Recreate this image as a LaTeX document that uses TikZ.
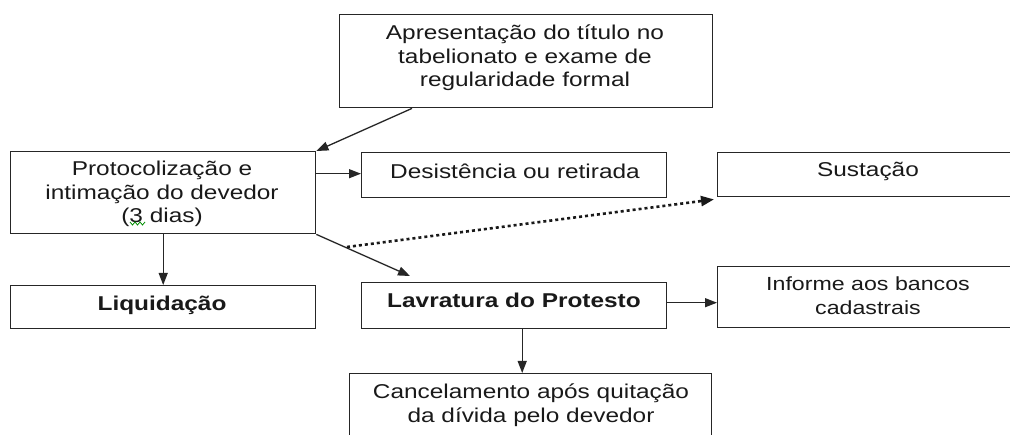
\documentclass[tikz,border=0pt]{standalone}
\usepackage{fontspec}
\setmainfont{Liberation Sans}[FakeStretch=1.22]
\usetikzlibrary{arrows.meta}
\tikzset{
  box/.style={draw=black!85, line width=1.4pt, rectangle, inner sep=0pt, anchor=north west},
  txt/.style={align=center, inner sep=0pt, font=\fontsize{20}{23.5}\selectfont, text=black!90},
  conn/.style={draw=black!85, line width=1.3pt, -{Triangle[length=12pt,width=9pt]}},
  dotconn/.style={draw=black!90, line width=2.6pt, dash pattern=on 3pt off 3pt, -{Triangle[length=13pt,width=10pt]}}
}
\begin{document}
\begin{tikzpicture}[x=1pt,y=-1pt]
\useasboundingbox (0,0) rectangle (1010,435);
\clip (0,0) rectangle (1010,435);
% boxes
\node[box, minimum width=373pt, minimum height=93pt] (apr) at (339,14) {};
\node[box, minimum width=305pt, minimum height=82pt] (prot) at (10,151) {};
\node[box, minimum width=305pt, minimum height=45pt] (des) at (361,152) {};
\node[box, minimum width=310pt, minimum height=44pt] (sus) at (717,152) {};
\node[box, minimum width=305pt, minimum height=43pt] (liq) at (10,285) {};
\node[box, minimum width=305pt, minimum height=46pt] (lav) at (361,282) {};
\node[box, minimum width=310pt, minimum height=61pt] (inf) at (717,266) {};
\node[box, minimum width=362pt, minimum height=80pt] (can) at (349,373) {};
% texts
\node[txt] (taprt) at (525,58) {Apresentação do título no\\tabelionato e exame de\\regularidade formal};
\node[txt] (tprot) at (162,194) {Protocolização e\\intimação do devedor\\(3 dias)};
\node[txt] (tdes) at (515,171) {Desistência ou retirada};
\node[txt] (tsus) at (868,171) {Sustação};
\node[txt, font=\fontsize{20}{23.5}\selectfont\bfseries] (tliq) at (162,305) {Liquidação};
\node[txt, font=\fontsize{20}{23.5}\selectfont\bfseries] (tlav) at (514,300) {Lavratura do Protesto};
\node[txt, font=\fontsize{19}{24}\selectfont] (tinf) at (868,296) {Informe aos bancos\\cadastrais};
\node[txt] (tcan) at (531,405) {Cancelamento após quitação\\da dívida pelo devedor};
% spell-check squiggle
\draw[green!55!black, line width=0.8pt] (130,222) -- (132.5,225) -- (135,222) -- (137.5,225) -- (140,222) -- (142.5,225) -- (145,222);
% connectors
\coordinate (aprout) at ([xshift=73pt]apr.south west);
\draw[conn] (aprout) -- (prot.north east);
\coordinate (protr) at ([yshift=1.5pt]prot.east |- des.west);
\draw[conn] (protr) -- (protr -| des.west);
\coordinate (dstart) at (347,247);
\draw[dotconn] (dstart) -- ([xshift=-3pt,yshift=-2pt]sus.south west);
\draw[conn] (prot.south east) -- ([xshift=49pt,yshift=6pt]lav.north west);
\draw[conn] (prot.south) -- (liq.north);
\coordinate (lavb) at ([xshift=8pt]lav.south);
\draw[conn] (lavb) -- (lavb |- can.north);
\coordinate (lavr) at ([yshift=3pt]lav.east);
\draw[conn] (lavr) -- (lavr -| inf.west);
\end{tikzpicture}
\end{document}
